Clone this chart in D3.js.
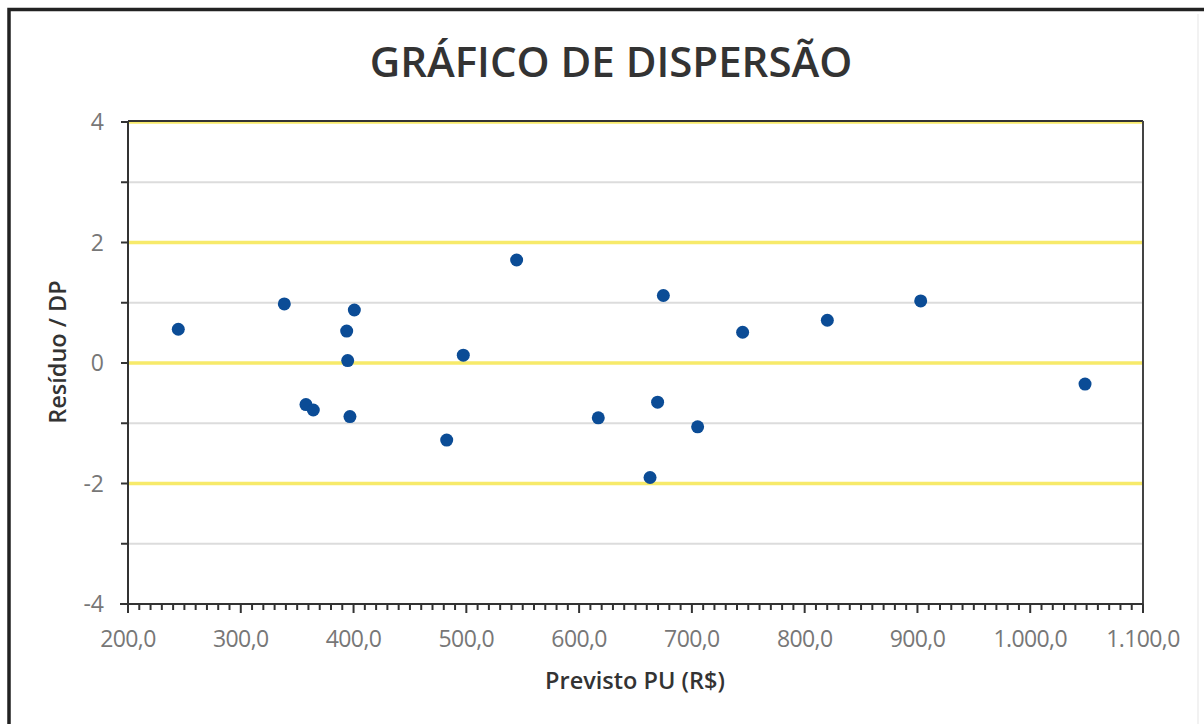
<!DOCTYPE html>
<html><head><meta charset="utf-8">
<script src="https://cdn.jsdelivr.net/npm/d3@7"></script>
<style>body{margin:0;background:#fff}svg{display:block}</style>
</head><body>
<script>
const title = "GRÁFICO DE DISPERSÃO";
const xLabel = "Previsto PU (R$)";
const yLabel = "Resíduo / DP";
const previsto = [244.6, 338.6, 400.7, 393.9, 394.8, 357.8, 364.3, 396.8, 544.6, 674.7, 497.3, 669.6, 617.0, 705.1, 482.6, 662.9, 745.0, 820.1, 902.9, 1048.6];
const residuo  = [0.56, 0.98, 0.88, 0.53, 0.04, -0.69, -0.78, -0.89, 1.71, 1.12, 0.13, -0.65, -0.91, -1.06, -1.28, -1.90, 0.51, 0.71, 1.03, -0.35];
const xTicks = [200, 300, 400, 500, 600, 700, 800, 900, 1000, 1100];
const yTicks = [-4, -2, 0, 2, 4];
const yBands = [-2, 0, 2, 4];
const yGrid = [-3, -1, 1, 3];

const W = 1204, H = 724;
const L = 128, R = 1143, T = 122, B = 604;
const svg = d3.select("body").append("svg").attr("width", W).attr("height", H);

// outer frame
svg.append("path").attr("d", `M9,${H+5} V9.5 H${W+5}`).attr("fill","none").attr("stroke","#222").attr("stroke-width",3.5);
svg.append("line").attr("x1",1198).attr("x2",1198).attr("y1",14).attr("y2",H).attr("stroke","#eee").attr("stroke-width",1.5);

const x = d3.scaleLinear().domain([200, 1100]).range([L, R]);
const y = d3.scaleLinear().domain([-4, 4]).range([B, T]);

const fmt = v => d3.format(",.1f")(v).replace(/,/g, "#").replace(/\./g, ",").replace(/#/g, ".");

// gridlines
svg.append("g").selectAll("line").data(yGrid).join("line")
  .attr("x1", L).attr("x2", R).attr("y1", d => y(d)).attr("y2", d => y(d))
  .attr("stroke", "#dcdcdc").attr("stroke-width", 2);
svg.append("g").selectAll("line").data(yBands).join("line")
  .attr("x1", L).attr("x2", R).attr("y1", d => y(d)).attr("y2", d => y(d))
  .attr("stroke", "#f7ea6a").attr("stroke-width", 3.5);

// frame top/right
svg.append("line").attr("x1", L).attr("x2", R).attr("y1", T-1).attr("y2", T-1).attr("stroke", "#333").attr("stroke-width", 2);
svg.append("line").attr("x1", R).attr("x2", R).attr("y1", T-1).attr("y2", B).attr("stroke", "#444").attr("stroke-width", 2);

// x axis
const xMinor = d3.range(200, 1101, 10);
const gx = svg.append("g").attr("transform", `translate(0,${B})`);
gx.append("line").attr("x1", L-8).attr("x2", R).attr("stroke", "#333").attr("stroke-width", 2);
gx.selectAll("line.minor").data(xMinor).join("line").attr("class","minor")
  .attr("x1", d => x(d)).attr("x2", d => x(d)).attr("y1", 0)
  .attr("y2", d => (d % 100 === 0 ? 9 : 6)).attr("stroke", "#333").attr("stroke-width", 2);
gx.selectAll("text").data(xTicks).join("text")
  .attr("x", d => x(d)).attr("y", 43).attr("text-anchor", "middle")
  .attr("font-family", "Open Sans").attr("font-size", 23).attr("fill", "#777")
  .attr("letter-spacing", -0.6)
  .text(d => fmt(d));

// y axis
const gy = svg.append("g");
gy.append("line").attr("x1", L).attr("x2", L).attr("y1", T-1).attr("y2", B+9).attr("stroke", "#333").attr("stroke-width", 2);
gy.selectAll("line.t").data(d3.range(-4, 5, 1)).join("line").attr("class","t")
  .attr("x1", L-7).attr("x2", L).attr("y1", d => y(d)).attr("y2", d => y(d)).attr("stroke", "#333").attr("stroke-width", 2);
gy.selectAll("text").data(yTicks).join("text")
  .attr("x", 104).attr("y", d => y(d) + 8).attr("text-anchor", "end")
  .attr("font-family", "Open Sans").attr("font-size", 23).attr("fill", "#777")
  .text(d => d);

// points
svg.append("g").selectAll("circle").data(previsto).join("circle")
  .attr("cx", (d,i) => x(d)).attr("cy", (d,i) => y(residuo[i])).attr("r", 6.5)
  .attr("fill", "#0b4c96");

// titles
svg.append("text").attr("x", 611).attr("y", 77).attr("text-anchor", "middle")
  .attr("font-family", "Open Sans").attr("font-weight", 600).attr("font-size", 42).attr("fill", "#333")
  .text(title);
svg.append("text").attr("x", 635).attr("y", 689).attr("text-anchor", "middle")
  .attr("font-family", "Open Sans").attr("font-weight", 600).attr("font-size", 23.5).attr("fill", "#333")
  .text(xLabel);
svg.append("text").attr("transform", "translate(66,352) rotate(-90)").attr("text-anchor", "middle")
  .attr("font-family", "Open Sans").attr("font-weight", 600).attr("font-size", 23.5).attr("fill", "#333")
  .text(yLabel);
</script>
</body></html>
